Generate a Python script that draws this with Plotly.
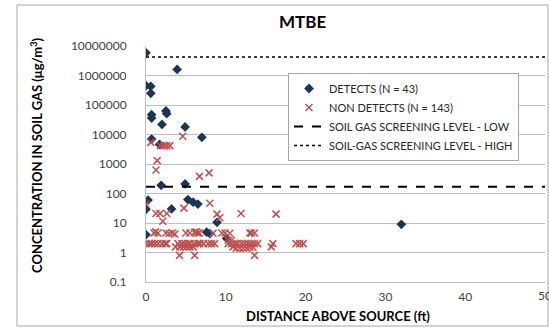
import plotly.graph_objects as go

# ---- data ----
det_x = [0, 3.9, 0, 0.6, 0.6, 0.7, 0.7, 2.5, 2.6, 2.0, 4.9, 0.7, 7.0, 1.7,
         1.9, 4.9, 0.25, 0, 3.2, 5.25, 5.9, 6.5, 8.9, 0, 7.6, 8.0, 10.1, 32]
det_y = [5900000, 1600000, 450000, 430000, 250000, 47000, 36000, 63000, 51000,
         22000, 18000, 7000, 8000, 4600, 190, 210, 60, 29, 30, 62, 51, 44,
         10.5, 4.0, 4.9, 4.4, 3.0, 9]

nd_x = [4.6, 0.6, 1.8, 2.2, 2.6, 3.0, 1.4, 1.25, 6.7, 7.9,
        0, 4.75, 8.0, 1.25, 1.75, 2.6, 2.1, 8.9, 9.25, 11.9, 16.3,
        1.0, 1.2, 1.5, 2.5, 2.9, 3.3, 3.6, 5.0, 5.5, 6.1, 6.3, 6.5, 6.7,
        8.4, 9.5, 9.9, 10.5, 13.0, 13.2, 13.6,
        0, 0.4, 0.7, 1.1, 1.5, 2.0, 2.4, 2.6, 4.0, 4.5, 4.9, 5.3, 5.5, 6.1,
        6.5, 6.75, 7.2, 7.8, 8.2, 8.6, 10.3, 10.7, 11.1, 11.5, 12.0, 12.4,
        12.8, 13.2, 13.6, 14.0, 15.9, 18.8, 19.25, 19.7,
        3.7, 4.25, 4.7, 5.1, 5.5, 5.9, 10.9, 11.3, 11.75, 12.2, 12.6, 13.0,
        13.4, 15.7,
        10.3, 10.7,
        4.2, 6.1, 13.6]
nd_y = [8700, 5400, 4200, 4200, 4200, 4200, 1300, 630, 380, 500,
        43, 32, 47, 21, 21, 21, 11.5, 20, 15, 21, 20,
        4.6, 5.0, 4.6, 4.6, 4.4, 4.6, 4.2, 4.6, 4.6, 4.8, 5.0, 4.6, 4.6,
        4.5, 4.6, 4.6, 4.5, 4.6, 4.6, 4.6,
        2.0, 2.0, 2.0, 2.0, 2.0, 2.0, 2.0, 2.0, 2.0, 2.0, 2.0, 2.0, 2.0, 2.0,
        2.0, 2.0, 2.0, 2.0, 2.0, 2.0, 2.0, 2.0, 2.0, 2.0, 2.0, 2.0,
        2.0, 2.0, 2.0, 2.0, 2.0, 2.0, 2.0, 2.0,
        1.55, 1.55, 1.55, 1.55, 1.55, 1.55, 1.55, 1.4, 1.4, 1.4, 1.4, 1.5,
        1.5, 1.55,
        2.6, 2.6,
        0.8, 0.8, 0.8]

screen_low = 170
screen_high = 4200000
x_span = [0, 50]

y_ticks = [0.1, 1, 10, 100, 1000, 10000, 100000, 1000000, 10000000]
y_tick_text = ["0.1", "1", "10", "100", "1000", "10000", "100000", "1000000", "10000000"]
x_ticks = [0, 10, 20, 30, 40, 50]

FONT = "Lato"
GREY = "#BFBFBF"
TXT = "#404040"

fig = go.Figure()
fig.add_trace(go.Scatter(
    x=det_x, y=det_y, mode="markers", name="DETECTS (N = 43)",
    marker=dict(symbol="diamond", size=7.5, color="#1B3557")))
fig.add_trace(go.Scatter(
    x=nd_x, y=nd_y, mode="markers", name="NON DETECTS (N = 143)",
    marker=dict(symbol="x-thin-open", size=7, color="#C0504D",
                line=dict(width=1.5, color="#C0504D"))))
fig.add_trace(go.Scatter(
    x=x_span, y=[screen_low, screen_low], mode="lines",
    name="SOIL GAS SCREENING LEVEL - LOW",
    line=dict(color="black", width=2, dash="dash")))
fig.add_trace(go.Scatter(
    x=x_span, y=[screen_high, screen_high], mode="lines",
    name="SOIL-GAS SCREENING LEVEL - HIGH",
    line=dict(color="black", width=1.5, dash="dot")))

W, H = 549, 328
L, R, T, B = 146, 4, 46, 46
pw, ph = W - L - R, H - T - B

def px(x):
    return (x - L) / pw

def py(y):
    return (H - B - y) / ph

# last x tick label is drawn as an annotation so it is clipped at the page edge
last_tick = x_ticks[-1]
tick_annos = [dict(text=str(last_tick), xref="x", yref="paper", x=last_tick,
                   y=py(286), xanchor="center", yanchor="top", showarrow=False,
                   font=dict(family=FONT, size=12, color=TXT))]

fig.update_layout(
    width=W, height=H,
    margin=dict(l=L, r=R, t=T, b=B),
    paper_bgcolor="white", plot_bgcolor="white",
    font=dict(family=FONT, size=12, color=TXT),
    showlegend=True,
    legend=dict(x=px(288), y=py(73), xanchor="left", yanchor="top",
                bgcolor="white", bordercolor="#A6A6A6", borderwidth=1,
                font=dict(family=FONT, size=11, color="#262626"),
                tracegroupgap=0, itemwidth=30),
    xaxis=dict(range=[0, 50], tickvals=x_ticks[:-1], showgrid=False, zeroline=False,
               showline=True, linecolor=GREY, linewidth=1, ticks="",
               tickfont=dict(family=FONT, size=12, color=TXT),
               ticklabelstandoff=4),
    yaxis=dict(type="log", range=[-1, 7], tickvals=y_ticks, ticktext=y_tick_text,
               showgrid=True, gridcolor=GREY, gridwidth=1, zeroline=False,
               showline=True, linecolor=GREY, linewidth=1, ticks="",
               tickfont=dict(family=FONT, size=12, color=TXT),
               ticklabelstandoff=16),
    shapes=[dict(type="rect", xref="paper", yref="paper",
                 x0=px(17), x1=px(548), y0=py(326), y1=py(5),
                 line=dict(color="#A6A6A6", width=1), layer="below")],
    annotations=tick_annos + [
        dict(text="<b>MTBE</b>", xref="paper", yref="paper", x=px(302), y=py(21),
             showarrow=False, font=dict(family=FONT, size=17, color="black"),
             xanchor="center", yanchor="middle"),
        dict(text="<b>DISTANCE ABOVE SOURCE (ft)</b>", xref="paper", yref="paper",
             x=px(338), y=py(316), showarrow=False,
             font=dict(family=FONT, size=13, color="black"),
             xanchor="center", yanchor="middle"),
        dict(text="<b>CONCENTRATION IN SOIL GAS (μg/m<sup>3</sup>)</b>",
             xref="paper", yref="paper", x=px(36), y=py(156), textangle=-90,
             showarrow=False, font=dict(family=FONT, size=13, color="black"),
             xanchor="center", yanchor="middle"),
    ],
)

fig.write_html(
    "out.html",
    config={"displayModeBar": False},
    post_script="document.body.style.margin='0';document.body.style.overflow='hidden';",
)
